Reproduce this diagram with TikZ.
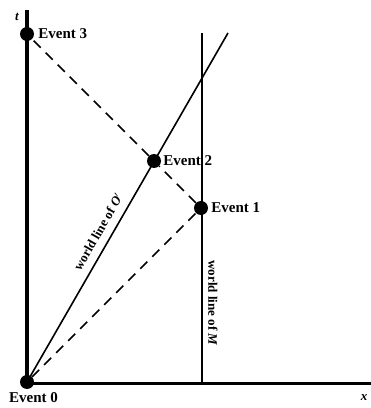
\documentclass[tikz,border=0pt]{standalone}
\usepackage{fontspec}
\setmainfont{Liberation Serif}
\usetikzlibrary{positioning}

\begin{document}
\begin{tikzpicture}[
    x=1pt, y=1pt,
    dot/.style={circle, fill=black, inner sep=0pt, minimum size=14pt},
    evlabel/.style={font=\fontsize{15}{17}\selectfont\bfseries, inner sep=1pt},
    wllabel/.style={font=\fontsize{13}{15}\selectfont\bfseries, inner sep=1pt},
    axis/.style={line width=3pt},
    wline/.style={line width=1.6pt},
    lightray/.style={line width=1.6pt, dash pattern=on 10pt off 7pt}
]
\useasboundingbox (0,0) rectangle (371,408);

% axes
\coordinate (origin) at (27,24);
\coordinate (ttop) at (27,398);
\coordinate (xend) at (371,24);
\draw[axis, line width=3.6pt] (origin) -- (ttop);
\draw[axis] (origin) -- (xend);
\node[font=\fontsize{13}{15}\selectfont\bfseries\itshape] (tlab) at (17,391) {t};
\node[font=\fontsize{13}{15}\selectfont\bfseries\itshape] (xlab) at (364,10) {x};

% events
\node[dot] (e0) at (27,26) {};
\node[dot] (e1) at (201,200) {};
\node[dot] (e2) at (154,247) {};
\node[dot] (e3) at (27,374) {};

% world lines
\coordinate (otop) at (228,375);
\coordinate (mbot) at (202,24);
\coordinate (mtop) at (202,375);
\draw[wline] (e0.center) -- (otop);
\draw[wline] (mbot) -- (mtop);

% light signals
\draw[lightray] (e0) -- (e1);
\draw[lightray] (e1) -- (e2);
\draw[lightray] (e2) -- (e3);

% labels
\node[evlabel, right=3pt of e3] (l3) {Event 3};
\node[evlabel, right=1pt of e2] (l2) {Event 2};
\node[evlabel, right=2pt of e1] (l1) {Event 1};
\node[evlabel, anchor=north west] (l0) at (8,17) {Event 0};
\node[wllabel, rotate=60] (wlo) at (98,176) {world line of \textit{O\/}$'$};
\node[wllabel, rotate=-90] (wlm) at (213,105) {world line of \textit{M}};

\end{tikzpicture}
\end{document}
